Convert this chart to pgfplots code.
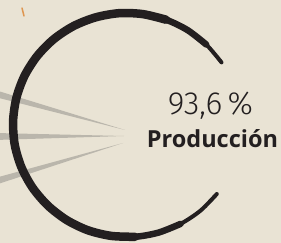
\documentclass[border=0pt]{standalone}
\usepackage{pgfplots}
\pgfplotsset{compat=1.18}
\usepackage{fontspec}
\setmainfont{Fira Sans}
\newfontfamily\lightfont{Fira Sans Light}
\newfontfamily\opensans{Open Sans}
\definecolor{paper}{RGB}{233,227,212}
\definecolor{ink}{RGB}{35,31,32}
\definecolor{ray}{RGB}{186,182,172}
\definecolor{speck}{RGB}{222,150,80}
\begin{document}
\begin{tikzpicture}
\fill[paper] (0,0) rectangle (281pt,243pt);
\begin{axis}[at={(0,0)}, anchor=south west, scale only axis,
  width=281pt, height=243pt, xmin=0, xmax=281, ymin=0, ymax=243,
  y dir=reverse, hide axis, clip=true]
% speck
\addplot[speck, line width=1.5pt, line cap=round] coordinates {(22,8) (24,16)};
% grey rays
\addplot[fill=ray, draw=none] coordinates {(-5,90) (125,130) (-5,97)} -- cycle;
\addplot[fill=ray, draw=none] coordinates {(-5,133) (124,136) (-5,140)} -- cycle;
\addplot[fill=ray, draw=none] coordinates {(-5,178) (123,143) (-5,185)} -- cycle;
% brush arc: thin full stroke
\addplot[ink, line width=4pt, smooth, line cap=round] coordinates {
(221.5,62.4) (206.2,44.5) (187.4,30.0) (166.0,19.7) (142.8,14.1)
(119.0,13.2) (95.5,17.4) (73.5,26.1) (53.7,39.2) (37.2,56.0) (24.5,75.9)
(16.4,97.9) (13.1,121.1) (14.7,144.5) (21.3,167.0) (32.5,187.6) (47.8,205.5)
(66.6,220.0) (88.0,230.3) (111.2,235.9) (135.0,236.8) (158.5,232.6)
(180.5,223.9) (200.3,210.8) (216.8,194.0)};
% thicker middle
\addplot[ink, line width=6.5pt, smooth, line cap=round] coordinates {
(206.2,44.5) (187.4,30.0) (166.0,19.7) (142.8,14.1)
(119.0,13.2) (95.5,17.4) (73.5,26.1) (53.7,39.2) (37.2,56.0) (24.5,75.9)
(16.4,97.9) (13.1,121.1) (14.7,144.5) (21.3,167.0) (32.5,187.6) (47.8,205.5)
(66.6,220.0) (88.0,230.3) (111.2,235.9) (135.0,236.8) (158.5,232.6)
(180.5,223.9)};
\addplot[ink, line width=8.5pt, smooth, line cap=round] coordinates {
(166.0,19.7) (142.8,14.1)
(119.0,13.2) (95.5,17.4) (73.5,26.1) (53.7,39.2) (37.2,56.0) (24.5,75.9)
(16.4,97.9) (13.1,121.1) (14.7,144.5) (21.3,167.0) (32.5,187.6) (47.8,205.5)
(66.6,220.0) (88.0,230.3) (111.2,235.9) (135.0,236.8)};
% texts
\node[text=ink, font=\lightfont\fontsize{32}{32}\selectfont, anchor=base, inner sep=0pt]
  at (axis cs:210.5,115) {93,6\,\%};
\node[text=ink, font=\opensans\bfseries\fontsize{23.5}{24}\selectfont, anchor=base, inner sep=0pt]
  at (axis cs:212.5,147) {Producción};
\end{axis}
\end{tikzpicture}
\end{document}
